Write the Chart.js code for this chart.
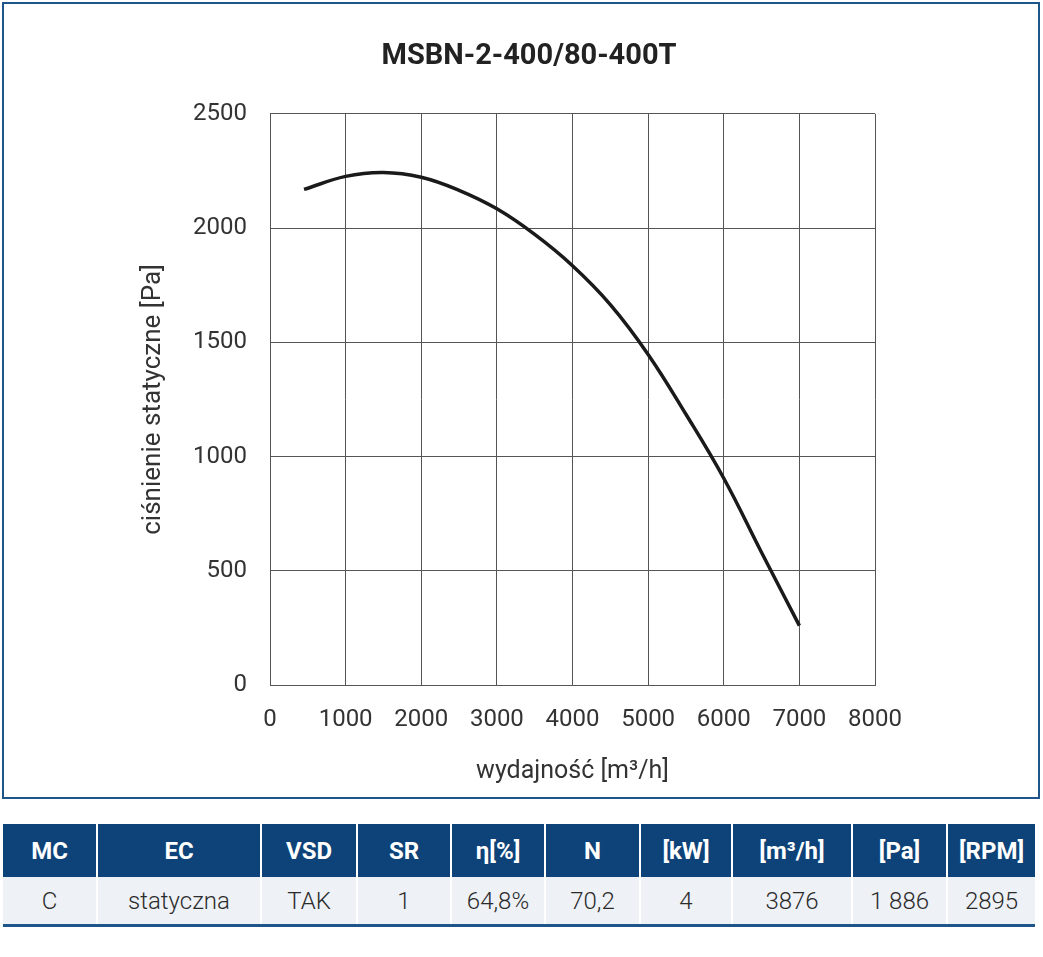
<!DOCTYPE html>
<html>
<head>
<meta charset="utf-8">
<script src="https://cdn.jsdelivr.net/npm/chart.js@4/dist/chart.umd.min.js"></script>
<style>
  body { margin: 0; background: #fff; font-family: Roboto, "Noto Sans", sans-serif; }
  #frame { position: absolute; left: 2px; top: 2px; width: 1034px; height: 793px; border: 2px solid #1f5689; }
  #frame canvas { display: block; }
  #params { position: absolute; left: 3px; top: 824px; border-collapse: collapse; table-layout: fixed; width: 1032px; }
  #params th, #params td { text-align: center; padding: 0; border-left: 2px solid #fff; font-size: 24px; }
  #params th:first-child, #params td:first-child { border-left: none; }
  #params th { background: #0d4379; color: #fff; height: 53px; font-weight: bold; }
  #params td { background: #eef1f6; color: #2b2b2b; height: 47px; font-weight: 300; border-bottom: 3px solid #1f5689; }
</style>
</head>
<body>
<div id="frame"><canvas id="myChart" width="1034" height="793"></canvas></div>

<table id="params">
  <colgroup>
    <col style="width:94px"><col style="width:164px"><col style="width:96px"><col style="width:94px"><col style="width:94px">
    <col style="width:95px"><col style="width:92px"><col style="width:120px"><col style="width:95px"><col style="width:88px">
  </colgroup>
  <thead><tr id="head-row"></tr></thead>
  <tbody><tr id="value-row"></tr></tbody>
</table>

<script>
const przeplyw = [450, 1000, 1500, 2000, 2500, 3000, 3500, 4000, 4500, 5000, 5500, 6000, 6500, 7000];
const cisnienie = [2169, 2226, 2243, 2222, 2165, 2084, 1972, 1835, 1665, 1447, 1185, 905, 580, 260];

// tabela parametrów
const naglowki = ['MC', 'EC', 'VSD', 'SR', 'η[%]', 'N', '[kW]', '[m³/h]', '[Pa]', '[RPM]'];
const wartosci = ['C', 'statyczna', 'TAK', '1', '64,8%', '70,2', '4', '3876', '1 886', '2895'];

naglowki.forEach(function (t) {
  const th = document.createElement('th');
  th.textContent = t;
  document.getElementById('head-row').appendChild(th);
});
wartosci.forEach(function (t) {
  const td = document.createElement('td');
  td.textContent = t;
  document.getElementById('value-row').appendChild(td);
});

const fontFam = 'Roboto, "Noto Sans", sans-serif';
const gridColor = '#555';

const ctx = document.getElementById('myChart');
new Chart(ctx, {
  type: 'line',
  data: {
    datasets: [{
      label: 'MSBN-2-400/80-400T',
      data: przeplyw.map(function (x, i) { return { x: x, y: cisnienie[i] }; }),
      borderColor: '#1a1a1a',
      borderWidth: 3.5,
      pointRadius: 0,
      fill: false,
      tension: 0.4
    }]
  },
  options: {
    responsive: false,
    animation: false,
    layout: { padding: { left: 16, right: 0, top: 0, bottom: 0 } },
    plugins: {
      legend: { display: false },
      tooltip: { enabled: false },
      title: {
        display: true,
        text: 'MSBN-2-400/80-400T',
        color: '#222',
        font: { family: fontFam, size: 29, weight: 'bold' },
        padding: { top: 35, bottom: 40 }
      }
    },
    scales: {
      x: {
        type: 'linear',
        min: 0,
        max: 8000,
        ticks: {
          stepSize: 1000, color: '#333', padding: 21, font: { family: fontFam, size: 24 },
          callback: function (v) { return String(v); }
        },
        grid: { color: gridColor, drawTicks: false },
        border: { color: gridColor },
        title: {
          display: true,
          text: 'wydajność [m³/h]',
          color: '#333',
          font: { family: fontFam, size: 25 },
          padding: { top: 0, bottom: 10 }
        },
        afterFit: function (scale) { scale.height = 112; }
      },
      y: {
        min: 0,
        max: 2500,
        ticks: {
          stepSize: 500, color: '#333', padding: 23, font: { family: fontFam, size: 24 },
          callback: function (v) { return String(v); }
        },
        grid: { color: gridColor, drawTicks: false },
        border: { color: gridColor },
        title: {
          display: true,
          text: 'ciśnienie statyczne [Pa]',
          color: '#333',
          font: { family: fontFam, size: 26 },
          padding: { top: 118, bottom: 0 }
        },
        afterFit: function (scale) { scale.width = 250; }
      },
      yPrawa: {
        position: 'right',
        min: 0,
        max: 2500,
        ticks: { display: false },
        grid: { display: false, drawTicks: false },
        border: { display: false },
        afterFit: function (scale) { scale.width = 163; }
      }
    }
  }
});
</script>
</body>
</html>
